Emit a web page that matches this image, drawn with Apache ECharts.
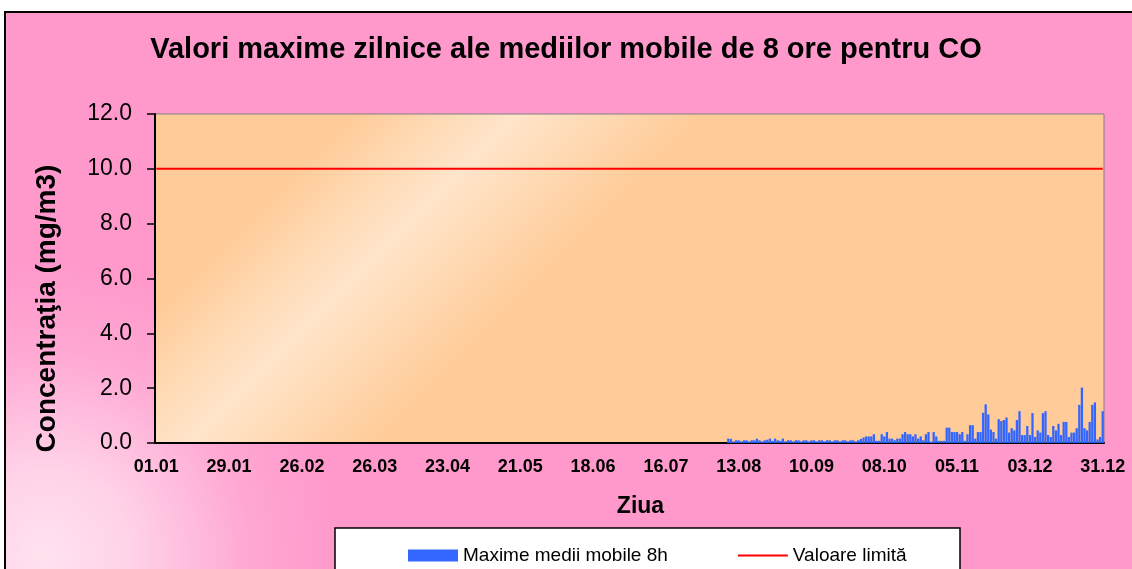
<!DOCTYPE html>
<html><head><meta charset="utf-8">
<script src="https://cdn.jsdelivr.net/npm/echarts@6/dist/echarts.min.js"></script>
<style>html,body{margin:0;padding:0;background:#fff;overflow:hidden}#c{width:1132px;height:569px}</style>
</head><body><div id="c"></div><script>
const TITLE = 'Valori maxime zilnice ale mediilor mobile de 8 ore pentru CO';
const Y_NAME = 'Concentraţia (mg/m3)';
const X_NAME = 'Ziua';
const SERIES_BAR = 'Maxime medii mobile 8h';
const SERIES_LIMIT = 'Valoare limită';
const YEAR = 2010;               // non-leap year, 365 days (01.01 ... 31.12)
const FIRST_DATA_DATE = '09.08'; // first day with measurements
// Daily maximum of 8h moving averages (mg/m3), from 09.08 to 31.12
const CO_MAX_8H = [
  0.16,0.15,0.06,0.1,0.1,0.06,0.1,0.1,0.06,0.1,
  0.1,0.16,0.1,0.06,0.1,0.12,0.16,0.08,0.16,0.1,
  0.08,0.16,0.06,0.1,0.1,0.06,0.1,0.1,0.06,0.1,
  0.1,0.06,0.1,0.1,0.06,0.1,0.1,0.06,0.1,0.1,
  0.06,0.1,0.1,0.06,0.1,0.1,0.06,0.1,0.1,0.06,
  0.1,
  0.15,0.2,0.24,0.24,0.24,0.32,0.08,0.08,0.32,0.24,
  0.4,0.16,0.16,0.1,0.16,0.16,0.32,0.4,0.32,0.32,
  0.24,0.32,0.16,0.24,0.1,0.32,0.4,0.05,0.4,0.24,
  0.08,0.08,0.08,0.56,0.56,0.4,0.4,0.4,0.32,0.4,
  0.08,0.32,0.65,0.65,0.16,0.4,0.4,1.1,1.41,1.04,
  0.49,0.4,0.16,0.87,0.8,
  0.84,0.93,0.38,0.54,0.46,0.84,1.16,0.29,0.29,0.62,
  0.29,1.09,0.22,0.46,0.38,1.09,1.16,0.29,0.22,0.62,
  0.46,0.7,0.29,0.77,0.77,0.22,0.38,0.38,0.54,1.39,
  2.02,0.54,0.46,0.77,1.39,1.48,0.13,0.22,1.16
];
const LIMIT_VALUE = 10.0;
const Y_MIN = 0, Y_MAX = 12, Y_STEP = 2;
const X_LABEL_EVERY = 28; // 01.01, 29.01, 26.02, ... 31.12

const categories = [];
for (let d = new Date(Date.UTC(YEAR, 0, 1)); d.getUTCFullYear() === YEAR; d.setUTCDate(d.getUTCDate() + 1)) {
  categories.push(String(d.getUTCDate()).padStart(2, '0') + '.' + String(d.getUTCMonth() + 1).padStart(2, '0'));
}
const start = categories.indexOf(FIRST_DATA_DATE);
const barData = categories.map((c, i) => (i >= start && i - start < CO_MAX_8H.length) ? CO_MAX_8H[i - start] : null);
const limitData = categories.map(() => LIMIT_VALUE);

const FONT = '"Liberation Sans", Arial, sans-serif';
// thin line icon for the limit series (invisible corner dots keep the 50x12 box)
const LINE_ICON = 'path://M0,0h0.01v0.01h-0.01z M0,5h50v2h-50z M49.99,12h0.01v0.01h-0.01z';

const chart = echarts.init(document.getElementById('c'), null, {renderer: 'canvas'});
chart.setOption({
  animation: false,
  textStyle: {fontFamily: FONT},
  graphic: [
    {type: 'rect', z: -10, silent: true,
     shape: {x: 5, y: 12, width: 1200, height: 600},
     style: {fill: {type: 'radial', x: 45, y: 555, r: 290, global: true,
       colorStops: [{offset: 0, color: '#FFE2F0'}, {offset: 0.3, color: '#FFD2E8'},
                    {offset: 0.7, color: '#FFA8D3'}, {offset: 1, color: '#FF99CC'}]},
       stroke: '#000', lineWidth: 2}},
    {type: 'rect', z: 1, silent: true,
     shape: {x: 335, y: 528, width: 625, height: 60},
     style: {fill: '#fff', stroke: '#000', lineWidth: 1.5}}
  ],
  title: {text: TITLE, left: 'center', top: 30,
    textStyle: {fontWeight: 'bold', fontSize: 29, color: '#000'}},
  legend: {left: 403, top: 541, itemWidth: 50, itemHeight: 12, itemGap: 70,
    textStyle: {fontSize: 19, color: '#000'},
    data: [{name: SERIES_BAR, icon: 'rect'},
           {name: SERIES_LIMIT, icon: LINE_ICON, itemStyle: {color: '#FF0000'}}]},
  grid: {left: 155, right: 28, top: 114, bottom: 126, show: true,
    backgroundColor: {type: 'linear', x: 0, y: 0, x2: 600, y2: 600, global: true,
      colorStops: [{offset: 0, color: '#FFCC99'}, {offset: 0.39, color: '#FFCC99'},
                   {offset: 0.525, color: '#FFE5CB'}, {offset: 0.68, color: '#FFCC99'},
                   {offset: 1, color: '#FFCC99'}]},
    borderColor: '#808080', borderWidth: 1},
  xAxis: {type: 'category', data: categories, boundaryGap: true,
    axisLine: {lineStyle: {color: '#000', width: 2}},
    axisTick: {show: false},
    axisLabel: {interval: X_LABEL_EVERY - 1, margin: 15, fontSize: 18, fontWeight: 'bold', color: '#000'},
    name: X_NAME, nameLocation: 'middle', nameGap: 52,
    nameTextStyle: {fontSize: 23, fontWeight: 'bold', color: '#000', padding: [0, 0, 0, 22]}},
  yAxis: {type: 'value', min: Y_MIN, max: Y_MAX, interval: Y_STEP,
    axisLine: {show: true, lineStyle: {color: '#000', width: 2}},
    axisTick: {show: true, length: 8, lineStyle: {color: '#000', width: 1.5}},
    splitLine: {show: false},
    axisLabel: {formatter: v => v.toFixed(1), margin: 23, fontSize: 23, color: '#000'},
    name: Y_NAME, nameLocation: 'middle', nameGap: 94,
    nameTextStyle: {fontSize: 28, fontWeight: 'bold', color: '#000', padding: [0, 60, 0, 0]}},
  series: [
    {name: SERIES_BAR, type: 'bar', data: barData, barCategoryGap: '12%',
     itemStyle: {color: '#3366FF'}},
    {name: SERIES_LIMIT, type: 'line', data: limitData, symbol: 'none',
     lineStyle: {color: '#FF0000', width: 2}, itemStyle: {color: '#FF0000'}}
  ]
});
</script></body></html>
